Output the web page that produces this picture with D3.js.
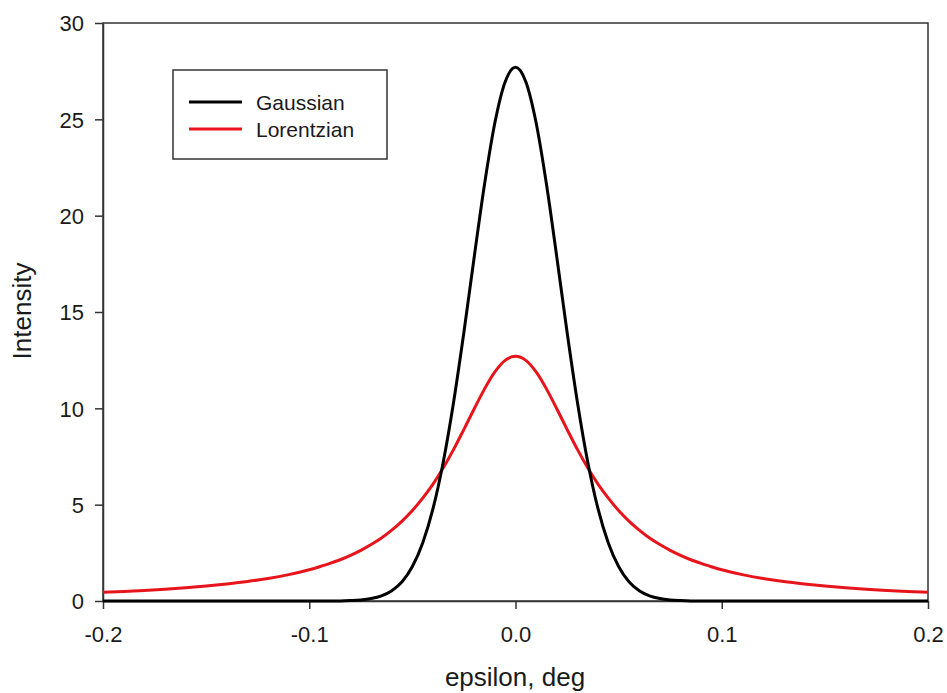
<!DOCTYPE html>
<html>
<head>
<meta charset="utf-8">
<script src="https://cdn.jsdelivr.net/npm/d3@7/dist/d3.min.js"></script>
<style>
  html, body { margin: 0; padding: 0; background: #fff; }
  svg { display: block; font-family: "Liberation Sans", Arial, sans-serif; }
</style>
</head>
<body>
<svg id="chart" width="947" height="693"></svg>
<script>
// x positions (deg)
const epsilon = [-0.2,-0.19,-0.18,-0.17,-0.16,-0.15,-0.14,-0.13,-0.12,-0.11,
  -0.1,-0.095,-0.09,-0.085,-0.08,-0.075,-0.07,-0.065,-0.06,-0.055,-0.05,-0.045,-0.04,-0.035,-0.03,-0.025,-0.02,-0.015,-0.01,-0.005,
  0,
  0.005,0.01,0.015,0.02,0.025,0.03,0.035,0.04,0.045,0.05,0.055,0.06,0.065,0.07,0.075,0.08,0.085,0.09,0.095,0.1,
  0.11,0.12,0.13,0.14,0.15,0.16,0.17,0.18,0.19,0.2];
const gaussian = [0,0,0,0,0,0,0,0,0,0,
  0,0,0,0.005,0.025,0.058,0.13,0.27,0.535,1.0,1.79,3.01,4.79,7.23,10.33,13.96,17.87,21.64,24.82,26.95,
  27.7,
  26.95,24.82,21.64,17.87,13.96,10.33,7.23,4.79,3.01,1.79,1.0,0.535,0.27,0.13,0.058,0.025,0.005,0,0,0,
  0,0,0,0,0,0,0,0,0,0];
const lorentzian = [0.449,0.496,0.55,0.614,0.688,0.777,0.884,1.01,1.17,1.37,
  1.62,1.78,1.95,2.14,2.37,2.63,2.93,3.27,3.68,4.15,4.70,5.34,6.07,6.92,7.87,8.91,9.98,11.01,11.89,12.49,
  12.7,
  12.49,11.89,11.01,9.98,8.91,7.87,6.92,6.07,5.34,4.70,4.15,3.68,3.27,2.93,2.63,2.37,2.14,1.95,1.78,1.62,
  1.37,1.17,1.01,0.884,0.777,0.688,0.614,0.55,0.496,0.449];
const xTicks = [-0.2,-0.1,0.0,0.1,0.2];
const xTickLabels = ["-0.2","-0.1","0.0","0.1","0.2"];
const yTicks = [0,5,10,15,20,25,30];
const seriesNames = ["Gaussian","Lorentzian"];
const seriesColors = ["#000000","#e8141b"];

(function(){
const svg = d3.select("#chart");
const pL = 103, pR = 928, pT = 23, pB = 601;
const x = d3.scaleLinear().domain([-0.2,0.2]).range([pL,pR]);
const y = d3.scaleLinear().domain([0,30]).range([pB,pT]);

// frame
svg.append("rect").attr("x",pL).attr("y",pT).attr("width",pR-pL).attr("height",pB-pT)
  .attr("fill","none").attr("stroke","#333").attr("stroke-width",1.5);

// axes
const xAxis = svg.append("g").attr("transform",`translate(0,${pB})`)
  .call(d3.axisBottom(x).tickValues(xTicks).tickFormat((d,i)=>xTickLabels[i]).tickSize(8).tickSizeOuter(0));
const yAxis = svg.append("g").attr("transform",`translate(${pL},0)`)
  .call(d3.axisLeft(y).tickValues(yTicks).tickFormat(d3.format("d")).tickSize(8).tickSizeOuter(0));
[xAxis,yAxis].forEach(g=>{
  g.select(".domain").attr("stroke","#333").attr("stroke-width",1.5);
  g.selectAll(".tick line").attr("stroke","#333").attr("stroke-width",1.5);
  g.selectAll(".tick text").attr("fill","#1a1a1a").style("font-size","22px").style("font-family","'Liberation Sans', Arial, sans-serif");
});
xAxis.selectAll(".tick text").attr("y",41).attr("dy",null);
yAxis.selectAll(".tick text").attr("x",-19).attr("dy","0.36em");

// curves
const line = d3.line().x((d,i)=>x(epsilon[i])).y(d=>y(d)).curve(d3.curveMonotoneX);
const data = [gaussian, lorentzian];
[1,0].forEach(k=>{
  svg.append("path").datum(data[k]).attr("d",line)
    .attr("fill","none").attr("stroke",seriesColors[k]).attr("stroke-width",3)
    .attr("stroke-linejoin","round");
});

// legend
const lg = svg.append("g");
lg.append("rect").attr("x",173).attr("y",70).attr("width",214).attr("height",89)
  .attr("fill","#fff").attr("stroke","#333").attr("stroke-width",1.5);
seriesNames.forEach((n,i)=>{
  const yy = 102 + i*27;
  lg.append("line").attr("x1",189).attr("x2",242).attr("y1",yy).attr("y2",yy)
    .attr("stroke",seriesColors[i]).attr("stroke-width",3);
  lg.append("text").attr("x",256).attr("y",yy).attr("dy","0.36em")
    .attr("fill","#1a1a1a").style("font-size","21px").text(n);
});

// axis titles
svg.append("text").attr("x",515).attr("y",686).attr("text-anchor","middle")
  .attr("fill","#1a1a1a").style("font-size","26px").text("epsilon, deg");
svg.append("text").attr("transform",`translate(31,311) rotate(-90)`)
  .attr("text-anchor","middle").attr("fill","#1a1a1a").style("font-size","26px").text("Intensity");
})();
</script>
</body>
</html>
